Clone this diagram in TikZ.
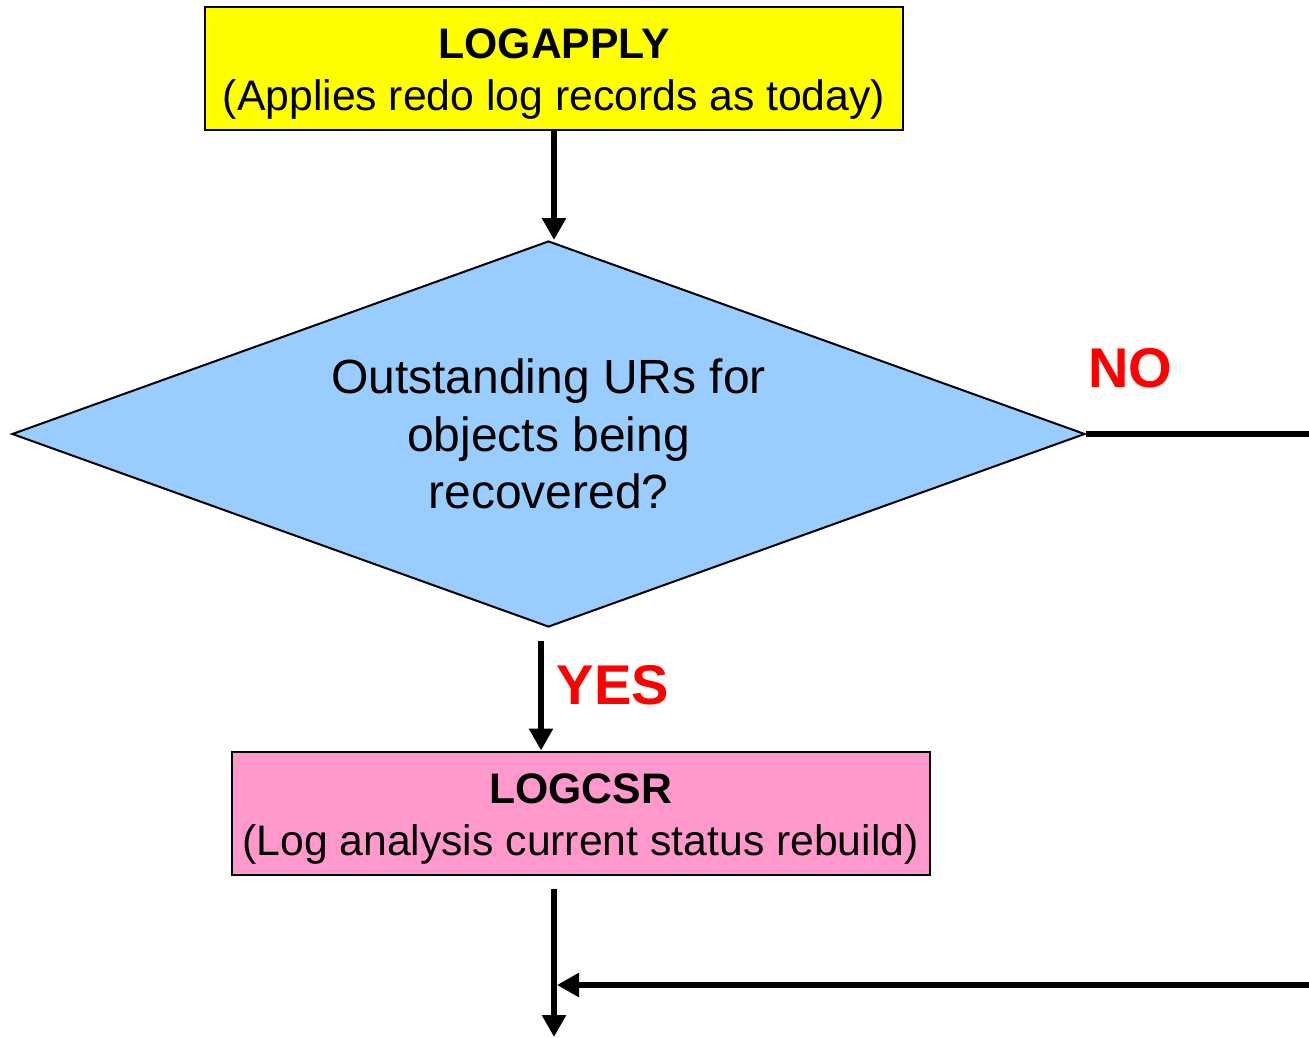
\documentclass[tikz,border=0pt]{standalone}
\usepackage{fontspec}
\setmainfont{Liberation Sans}
\usetikzlibrary{arrows.meta,shapes.geometric}
\definecolor{boxyellow}{HTML}{FFFF00}
\definecolor{boxpink}{HTML}{FF99CC}
\definecolor{decblue}{HTML}{99CCFF}
\definecolor{labred}{HTML}{FF0000}
\begin{document}
\begin{tikzpicture}[x=1pt,y=-1pt,
  procbox/.style={draw=black,line width=2pt,minimum width=698pt,minimum height=123pt,
    inner sep=0pt},
  proctext/.style={inner sep=0pt,align=center,font=\fontsize{42.7}{52}\selectfont},
  decbox/.style={diamond,draw=black,line width=2pt,fill=decblue,minimum width=1073pt,
    minimum height=386pt,inner sep=0pt},
  dectext/.style={align=center,font=\fontsize{48}{57.5}\selectfont},
  flow/.style={line width=6.5pt,-{Triangle[width=23pt,length=22pt]}},
  plain/.style={line width=6.5pt},
  answer/.style={text=labred,font=\fontsize{56}{60}\selectfont\bfseries}]
\useasboundingbox (0,0) rectangle (1309,1037);

% process steps and decision
\node[procbox,fill=boxyellow] (apply) at (554,68.5) {};
\node[proctext,yshift=-6pt] (applytext) at (apply.center) {\textbf{LOGAPPLY}\\(Applies redo log records as today)};
\node[decbox] (dec) at (548.5,434) {};
\node[dectext] (q) at (548.5,434) {Outstanding URs for\\objects being\\recovered?};
\node[procbox,fill=boxpink] (csr) at (580.5,813) {};
\node[proctext,yshift=-6pt] (csrtext) at (csr.center) {\textbf{LOGCSR}\\(Log analysis current status rebuild)};

% branch labels
\node[answer] (no) at (1130,368) {NO};
\node[answer] (yes) at (613,685) {YES};

% free ends of connectors
\coordinate (yesstart) at (541,641);
\coordinate (noend) at (1309,434);
\coordinate (outstart) at (554,889);
\coordinate (outend) at (554,1037);
\coordinate (backin) at (1309,985);

% connectors
\draw[flow] (apply.south) -- (apply.south |- dec.north);
\draw[flow] (yesstart) -- (yesstart |- csr.north);
\draw[plain] (dec.east) -- (dec.east -| noend);
\draw[flow] (outstart) -- (outend);
\draw[flow] (backin) -- ([xshift=3pt]outstart |- backin);
\end{tikzpicture}
\end{document}
